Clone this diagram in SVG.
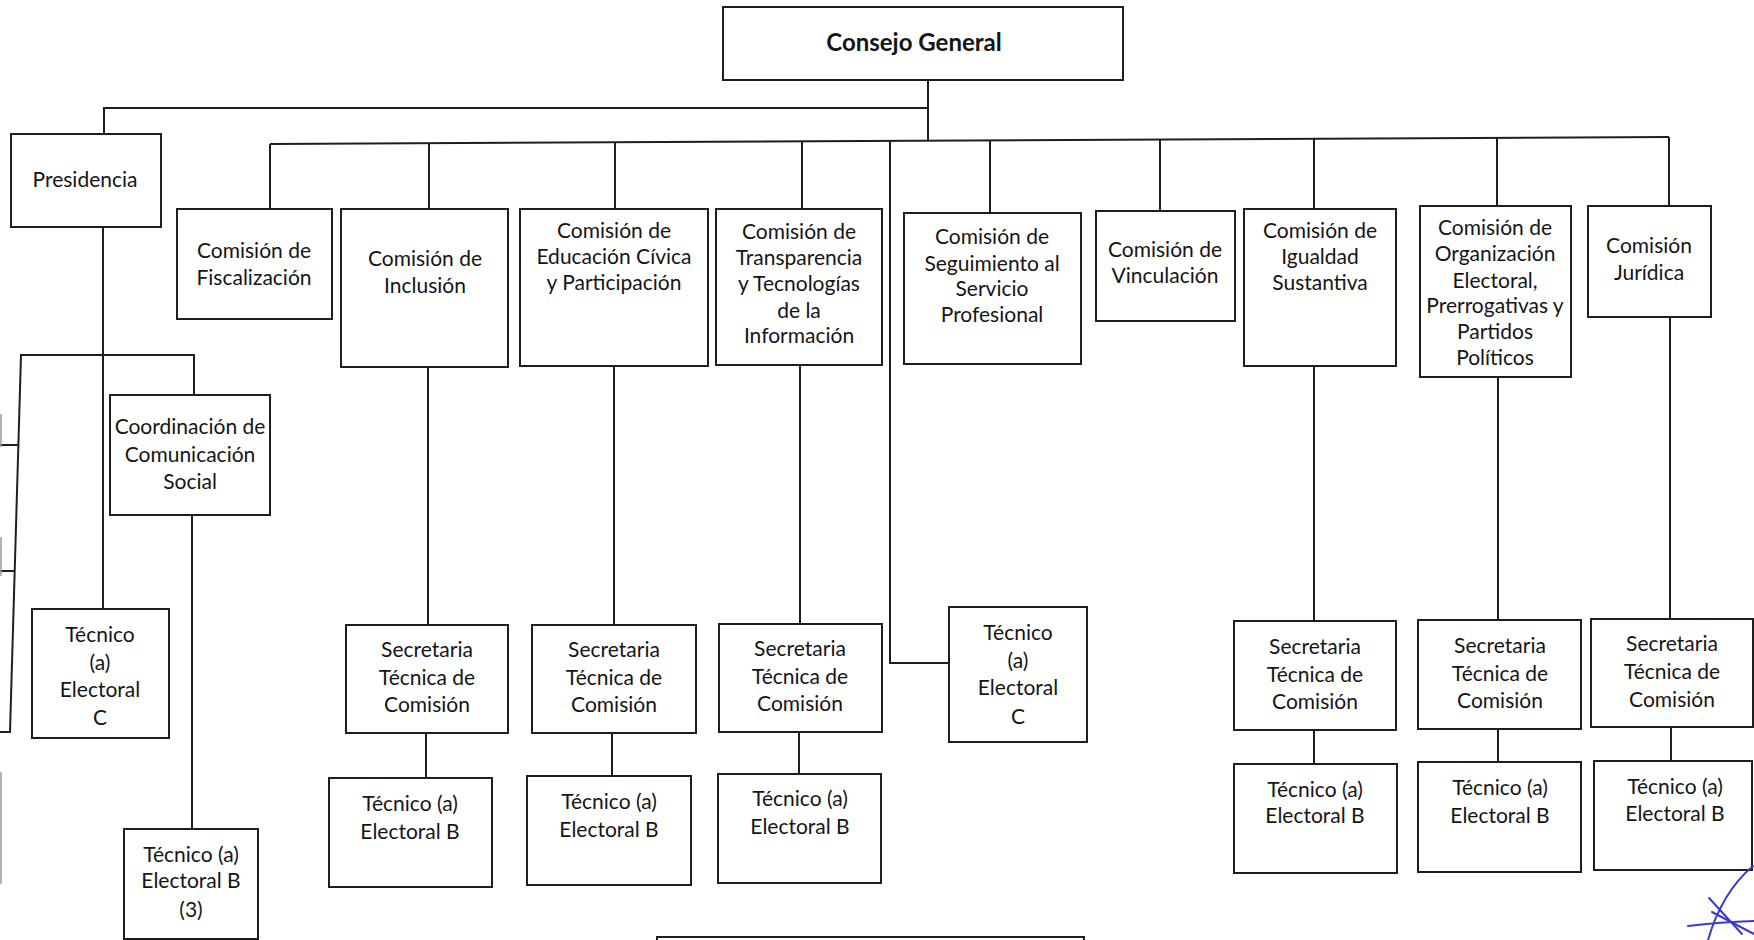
<svg xmlns="http://www.w3.org/2000/svg" width="1754" height="940" viewBox="0 0 1754 940">
<style>
  .box { fill: #ffffff; stroke: #1e1e1e; stroke-width: 2; }
  .t { font-family: Lato, "Liberation Sans", sans-serif; font-size: 21px; fill: #151515; text-anchor: middle; }
  .tb { font-family: Lato, "Liberation Sans", sans-serif; font-size: 24px; font-weight: bold; fill: #151515; text-anchor: middle; }
  .c { fill: none; stroke: #1e1e1e; stroke-width: 2; }
  .faint { fill: none; stroke: #9a9a9a; stroke-width: 1.5; }
  .sig { fill: none; stroke: #3a3ad0; stroke-width: 2; stroke-linecap: round; }
</style>
<rect width="1754" height="940" fill="#ffffff"/>

<g id="connectors">
  <path class="c" d="M928,80 V141"/>
  <path class="c" d="M928,108 H104 V134"/>
  <path class="c" d="M270,144 L1669,137"/>
  <path class="c" d="M270,144 V209"/>
  <path class="c" d="M429,143.2 V209"/>
  <path class="c" d="M615,142.3 V209"/>
  <path class="c" d="M802,141.3 V209"/>
  <path class="c" d="M890,140.9 V663 H949"/>
  <path class="c" d="M990,140.4 V213"/>
  <path class="c" d="M1160,139.5 V211"/>
  <path class="c" d="M1314,138.8 V209"/>
  <path class="c" d="M1497,137.9 V206"/>
  <path class="c" d="M1669,137 V206"/>
  <path class="c" d="M103,227 V609"/>
  <path class="c" d="M194,395 V355 H21 L10,732 H0"/>
  <path class="c" d="M18.4,445 H0"/>
  <path class="c" d="M14.7,571 H0"/>
  <path class="c" d="M192,515 V829"/>
  <path class="c" d="M428,367 V625"/>
  <path class="c" d="M426,733 V778"/>
  <path class="c" d="M614,366 V625"/>
  <path class="c" d="M612,733 V776"/>
  <path class="c" d="M800,365 V624"/>
  <path class="c" d="M799,732 V774"/>
  <path class="c" d="M1314,366 V621"/>
  <path class="c" d="M1314,730 V764"/>
  <path class="c" d="M1498,377 V620"/>
  <path class="c" d="M1498,729 V762"/>
  <path class="c" d="M1670,317 V619"/>
  <path class="c" d="M1671,727 V761"/>
  <path class="faint" d="M1,414 V447 M1,537 V576 M1,772 V884"/>
</g>

<g id="consejo-general">
  <rect class="box" x="723" y="7" width="400" height="73"/>
  <text class="tb" x="914" y="51">Consejo General</text>
</g>
<g id="presidencia">
  <rect class="box" x="11" y="134" width="150" height="93"/>
  <text class="t" x="85" y="187">Presidencia</text>
</g>
<g id="com-fiscalizacion">
  <rect class="box" x="177" y="209" width="155" height="110"/>
  <text class="t" x="254" y="258">Comisión de</text>
  <text class="t" x="254" y="285">Fiscalización</text>
</g>
<g id="com-inclusion">
  <rect class="box" x="341" y="209" width="167" height="158"/>
  <text class="t" x="425" y="266">Comisión de</text>
  <text class="t" x="425" y="293">Inclusión</text>
</g>
<g id="com-educacion">
  <rect class="box" x="520" y="209" width="188" height="157"/>
  <text class="t" x="614" y="238">Comisión de</text>
  <text class="t" x="614" y="264">Educación Cívica</text>
  <text class="t" x="614" y="290">y Participación</text>
</g>
<g id="com-transparencia">
  <rect class="box" x="716" y="209" width="166" height="156"/>
  <text class="t" x="799" y="239">Comisión de</text>
  <text class="t" x="799" y="265">Transparencia</text>
  <text class="t" x="799" y="291">y Tecnologías</text>
  <text class="t" x="799" y="318">de la</text>
  <text class="t" x="799" y="343">Información</text>
</g>
<g id="com-seguimiento">
  <rect class="box" x="904" y="213" width="177" height="151"/>
  <text class="t" x="992" y="244">Comisión de</text>
  <text class="t" x="992" y="271">Seguimiento al</text>
  <text class="t" x="992" y="296">Servicio</text>
  <text class="t" x="992" y="322">Profesional</text>
</g>
<g id="com-vinculacion">
  <rect class="box" x="1096" y="211" width="139" height="110"/>
  <text class="t" x="1165" y="257">Comisión de</text>
  <text class="t" x="1165" y="283">Vinculación</text>
</g>
<g id="com-igualdad">
  <rect class="box" x="1244" y="209" width="152" height="157"/>
  <text class="t" x="1320" y="238">Comisión de</text>
  <text class="t" x="1320" y="264">Igualdad</text>
  <text class="t" x="1320" y="290">Sustantiva</text>
</g>
<g id="com-organizacion">
  <rect class="box" x="1420" y="206" width="151" height="171"/>
  <text class="t" x="1495" y="235">Comisión de</text>
  <text class="t" x="1495" y="261">Organización</text>
  <text class="t" x="1495" y="288">Electoral,</text>
  <text class="t" x="1495" y="313">Prerrogativas y</text>
  <text class="t" x="1495" y="339">Partidos</text>
  <text class="t" x="1495" y="365">Políticos</text>
</g>
<g id="com-juridica">
  <rect class="box" x="1588" y="206" width="123" height="111"/>
  <text class="t" x="1649" y="253">Comisión</text>
  <text class="t" x="1649" y="280">Jurídica</text>
</g>

<g id="coord-comunicacion">
  <rect class="box" x="110" y="395" width="160" height="120"/>
  <text class="t" x="190" y="434">Coordinación de</text>
  <text class="t" x="190" y="462">Comunicación</text>
  <text class="t" x="190" y="489">Social</text>
</g>
<g id="pres-tecnico-c">
  <rect class="box" x="32" y="609" width="137" height="129"/>
  <text class="t" x="100" y="642">Técnico</text>
  <text class="t" x="100" y="670">(a)</text>
  <text class="t" x="100" y="697">Electoral</text>
  <text class="t" x="100" y="725">C</text>
</g>
<g id="coord-tecnico-b">
  <rect class="box" x="124" y="829" width="134" height="110"/>
  <text class="t" x="191" y="862">Técnico (a)</text>
  <text class="t" x="191" y="888">Electoral B</text>
  <text class="t" x="191" y="917">(3)</text>
</g>

<g id="inclusion-secretaria">
  <rect class="box" x="346" y="625" width="162" height="108"/>
  <text class="t" x="427" y="657">Secretaria</text>
  <text class="t" x="427" y="685">Técnica de</text>
  <text class="t" x="427" y="712">Comisión</text>
</g>
<g id="inclusion-tecnico">
  <rect class="box" x="329" y="778" width="163" height="109"/>
  <text class="t" x="410" y="811">Técnico (a)</text>
  <text class="t" x="410" y="839">Electoral B</text>
</g>
<g id="educacion-secretaria">
  <rect class="box" x="532" y="625" width="164" height="108"/>
  <text class="t" x="614" y="657">Secretaria</text>
  <text class="t" x="614" y="685">Técnica de</text>
  <text class="t" x="614" y="712">Comisión</text>
</g>
<g id="educacion-tecnico">
  <rect class="box" x="527" y="776" width="164" height="109"/>
  <text class="t" x="609" y="809">Técnico (a)</text>
  <text class="t" x="609" y="837">Electoral B</text>
</g>
<g id="transparencia-secretaria">
  <rect class="box" x="719" y="624" width="163" height="108"/>
  <text class="t" x="800" y="656">Secretaria</text>
  <text class="t" x="800" y="684">Técnica de</text>
  <text class="t" x="800" y="711">Comisión</text>
</g>
<g id="transparencia-tecnico">
  <rect class="box" x="718" y="774" width="163" height="109"/>
  <text class="t" x="800" y="806">Técnico (a)</text>
  <text class="t" x="800" y="834">Electoral B</text>
</g>
<g id="seguimiento-tecnico-c">
  <rect class="box" x="949" y="607" width="138" height="135"/>
  <text class="t" x="1018" y="640">Técnico</text>
  <text class="t" x="1018" y="668">(a)</text>
  <text class="t" x="1018" y="695">Electoral</text>
  <text class="t" x="1018" y="724">C</text>
</g>
<g id="igualdad-secretaria">
  <rect class="box" x="1234" y="621" width="162" height="109"/>
  <text class="t" x="1315" y="654">Secretaria</text>
  <text class="t" x="1315" y="682">Técnica de</text>
  <text class="t" x="1315" y="709">Comisión</text>
</g>
<g id="igualdad-tecnico">
  <rect class="box" x="1234" y="764" width="163" height="109"/>
  <text class="t" x="1315" y="797">Técnico (a)</text>
  <text class="t" x="1315" y="823">Electoral B</text>
</g>
<g id="organizacion-secretaria">
  <rect class="box" x="1418" y="620" width="163" height="109"/>
  <text class="t" x="1500" y="653">Secretaria</text>
  <text class="t" x="1500" y="681">Técnica de</text>
  <text class="t" x="1500" y="708">Comisión</text>
</g>
<g id="organizacion-tecnico">
  <rect class="box" x="1418" y="762" width="163" height="110"/>
  <text class="t" x="1500" y="795">Técnico (a)</text>
  <text class="t" x="1500" y="823">Electoral B</text>
</g>
<g id="juridica-secretaria">
  <rect class="box" x="1591" y="619" width="162" height="108"/>
  <text class="t" x="1672" y="651">Secretaria</text>
  <text class="t" x="1672" y="679">Técnica de</text>
  <text class="t" x="1672" y="707">Comisión</text>
</g>
<g id="juridica-tecnico">
  <rect class="box" x="1594" y="761" width="158" height="109"/>
  <text class="t" x="1675" y="794">Técnico (a)</text>
  <text class="t" x="1675" y="821">Electoral B</text>
</g>
<g id="bottom-box">
  <rect class="box" x="657" y="937" width="427" height="30"/>
</g>

<g id="signature">
  <path class="sig" d="M1753,866 Q1722,892 1708,940"/>
  <path class="sig" d="M1709,898 L1742,934"/>
  <path class="sig" d="M1688,926 Q1720,922 1754,921"/>
  <path class="sig" d="M1712,912 L1754,934"/>
</g>
</svg>
